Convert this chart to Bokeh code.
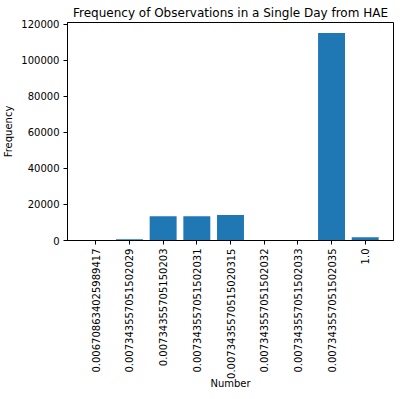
import math
from bokeh.plotting import figure
from bokeh.models import Range1d, FixedTicker, BasicTickFormatter
from bokeh.embed import file_html
from bokeh.resources import INLINE

labels = ["0.006708634025989417", "0.007343557051502029", "0.00734355705150203",
          "0.007343557051502031", "0.0073435570515020315", "0.007343557051502032",
          "0.007343557051502033", "0.007343557051502035", "1.0"]
freq = [0, 700, 13500, 13500, 14100, 0, 0, 115300, 1850]
y_ticks = [0, 20000, 40000, 60000, 80000, 100000, 120000]

xs = list(range(len(labels)))

p = figure(width=400, height=391, output_backend="svg", toolbar_location=None,
           x_range=Range1d(-0.84, len(labels) - 1 + 0.84),
           y_range=Range1d(0, max(freq) * 1.05),
           title="Frequency of Observations in a Single Day from HAE",
           min_border_left=58, min_border_right=7, min_border_top=0, min_border_bottom=0)

p.vbar(x=xs, top=freq, width=0.8, color="#1f77b4", line_color=None)

p.title.text_font = "DejaVu Sans"
p.title.text_font_size = "12px"
p.title.text_font_style = "normal"
p.title.align = "center"
p.title.text_color = "black"
p.title.standoff = 6

p.xgrid.visible = False
p.ygrid.visible = False
p.outline_line_color = "black"
p.outline_line_width = 1

p.xaxis.ticker = FixedTicker(ticks=xs)
p.xaxis.major_label_overrides = {i: l for i, l in enumerate(labels)}
p.xaxis.major_label_orientation = math.pi / 2
p.yaxis.ticker = FixedTicker(ticks=y_ticks)
p.yaxis.formatter = BasicTickFormatter(use_scientific=False)

for ax in (p.xaxis[0], p.yaxis[0]):
    ax.major_label_text_font = "DejaVu Sans"
    ax.major_label_text_font_size = "10px"
    ax.major_label_text_color = "black"
    ax.axis_label_text_font = "DejaVu Sans"
    ax.axis_label_text_font_size = "10px"
    ax.axis_label_text_font_style = "normal"
    ax.axis_label_text_color = "black"
    ax.major_tick_out = 4
    ax.major_tick_in = 0
    ax.minor_tick_line_color = None
    ax.axis_line_color = "black"
    ax.major_tick_line_color = "black"

p.xaxis.axis_label = "Number"
p.yaxis.axis_label = "Frequency"
p.xaxis.major_label_standoff = 4
p.yaxis.major_label_standoff = 4
p.xaxis.axis_label_standoff = -4
p.yaxis.axis_label_standoff = 4

open("out.html", "w").write(file_html(p, INLINE))
